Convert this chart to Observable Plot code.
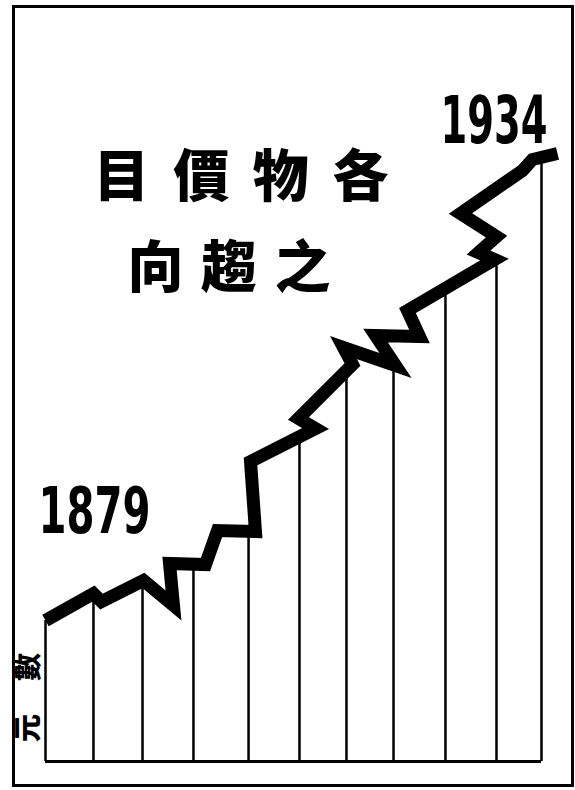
<!DOCTYPE html>
<html><head><meta charset="utf-8">
<script src="https://cdn.jsdelivr.net/npm/d3@7"></script>
<script src="https://cdn.jsdelivr.net/npm/@observablehq/plot@0.6"></script>
<style>body{margin:0;background:#fff} #chart svg{display:block}</style>
</head><body><div id="chart"></div>
<script>
// zigzag price line: x = year, y = price level (index units)
const lineYears  = [1879.00, 1884.33, 1885.22, 1889.89, 1893.22, 1892.78, 1896.78, 1898.11, 1902.33, 1901.78, 1909.00, 1907.11, 1913.11, 1912.11, 1917.89, 1915.67, 1920.56, 1919.22, 1928.89, 1927.11, 1929.11, 1925.11, 1932.00, 1933.11, 1935.89];
const lineValues = [28.2, 33.6, 32.0, 36.2, 31.2, 39.6, 39.4, 46.2, 46.0, 60.0, 66.6, 68.6, 79.4, 82.8, 79.2, 85.2, 85.0, 90.2, 100.4, 101.8, 105.0, 109.6, 118.2, 120.4, 121.6];
// vertical column dividers
const dividerYears  = [1879.0, 1884.33, 1889.78, 1895.44, 1901.56, 1907.22, 1912.44, 1917.67, 1923.44, 1929.11, 1934.11];
const dividerValues = [28.2, 33.0, 35.8, 39.4, 46.0, 65.0, 77.0, 79.4, 94.8, 100.6, 120.2];
const titleLines = ["目價物各", "向趨之"];
const yearLabels = ["1879", "1934"];
const unitLabel = "元數";

const linePts = lineYears.map((x, i) => ({x, y: lineValues[i]}));
const dividers = dividerYears.map((x, i) => ({x, y: dividerValues[i]}));

const cjk = "'Noto Sans CJK TC', 'Noto Sans CJK SC', sans-serif";
const num = "'DejaVu Sans', sans-serif";

const plot = Plot.plot({
  width: 575, height: 790,
  marginLeft: 13, marginRight: 3, marginTop: 6, marginBottom: 5,
  x: {domain: [1875.444, 1937.556], axis: null},
  y: {domain: [-4.8, 151], axis: null},
  style: {background: "#fff"},
  marks: [
    Plot.frame({stroke: "#000", strokeWidth: 3}),
    Plot.ruleX(dividers, {x: "x", y1: 0, y2: "y", stroke: "#000", strokeWidth: 2.5}),
    Plot.ruleY([0], {x1: dividerYears[0], x2: dividerYears[dividerYears.length - 1], stroke: "#000", strokeWidth: 3}),
    Plot.line(linePts, {x: "x", y: "y", stroke: "#000", strokeWidth: 13, strokeLinejoin: "miter", strokeMiterlimit: 20, strokeLinecap: "butt"}),
    Plot.text([titleLines[0]], {x: 1900.72, y: 116.7, text: d => d, fontSize: 56, fontWeight: 900, fontFamily: cjk, fill: "#000"}),
    Plot.text([titleLines[1]], {x: 1899.39, y: 98.5, text: d => d, fontSize: 56, fontWeight: 900, fontFamily: cjk, fill: "#000"}),
    Plot.text([yearLabels[0]], {x: 1884.44, y: 49.7, text: d => d, fontSize: 64, fontWeight: "bold", fontFamily: num, fill: "#000"}),
    Plot.text([yearLabels[1]], {x: 1928.83, y: 127.9, text: d => d, fontSize: 66, fontWeight: "bold", fontFamily: num, fill: "#000"}),
    Plot.text([unitLabel], {x: 1877.22, y: 12.8, text: d => d, rotate: -90, fontSize: 28, fontWeight: 900, fontFamily: cjk, fill: "#000"})
  ]
});
document.getElementById("chart").appendChild(plot);

// CJK rows: spread glyphs to the reference widths
const spread = {"目價物各": 295, "向趨之": 203, "元數": 89};
// year numerals: condense horizontally to the reference widths
const squeeze = {"1879": 112, "1934": 107};
d3.select(plot).selectAll("text").each(function() {
  const t = this.textContent;
  if (spread[t]) {
    this.setAttribute("textLength", spread[t]);
    this.setAttribute("lengthAdjust", "spacing");
  } else if (squeeze[t]) {
    const w = this.getComputedTextLength();
    const tr = this.getAttribute("transform") || "";
    this.setAttribute("transform", tr + ` scale(${(squeeze[t] / w).toFixed(4)},1)`);
  }
});
</script>
</body></html>
